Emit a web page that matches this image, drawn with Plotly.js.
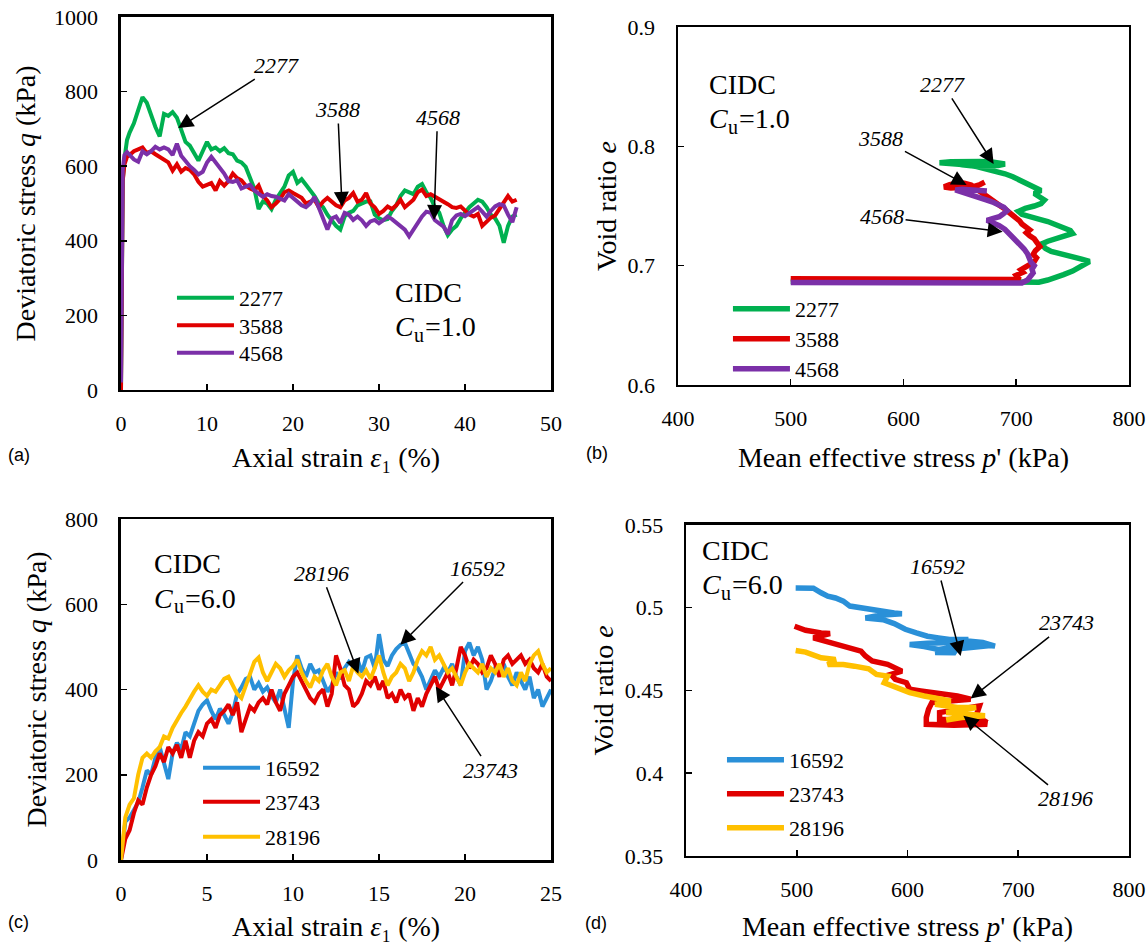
<!DOCTYPE html>
<html>
<head>
<meta charset="utf-8">
<script src="https://cdn.plot.ly/plotly-3.0.1.min.js"></script>
<style>html,body{margin:0;padding:0;background:#fff;}#chart{width:1148px;height:942px;}</style>
</head>
<body>
<div id="chart"></div>
<script>
// ---------- Panel (a): q vs axial strain, Cu = 1.0 ----------
const strainA = [0,0.1,0.2,0.4,0.7,1.0,1.5,2.0,2.5,3.0,3.5,4.0,4.5,5.0,5.5,6.0,6.5,7.0,7.5,8.0,8.5,9.0,9.5,10.0,10.5,11.0,11.5,12.0,12.5,13.0,13.5,14.0,14.5,15.0,15.5,16.0,16.5,17.0,17.5,18.0,18.5,19.0,19.5,20.0,20.5,21.0,21.5,22.0,22.5,23.0,23.5,24.0,24.5,25.0,25.5,26.0,26.5,27.0,27.5,28.0,28.5,29.0,29.5,30.0,30.5,31.0,31.5,32.0,32.5,33.0,33.5,34.0,34.5,35.0,35.5,36.0,36.5,37.0,37.5,38.0,38.5,39.0,39.5,40.0,40.5,41.0,41.5,42.0,42.5,43.0,43.5,44.0,44.5,45.0,45.5,46.0];
const qA_2277 = [0,350,560,620,670,690,715,750,785,770,735,705,680,740,735,745,730,695,665,655,635,615,640,665,645,650,640,648,635,632,615,610,598,570,540,485,505,500,485,510,530,545,575,585,555,565,550,535,520,500,490,470,455,440,430,465,475,480,495,500,505,505,470,460,455,458,480,495,520,535,530,525,545,552,530,515,490,475,440,415,430,440,460,475,490,500,510,505,490,470,460,440,395,440,465,470];
const qA_3588 = [0,300,560,605,625,630,640,645,650,635,640,632,625,620,610,588,605,585,595,590,578,558,545,550,555,535,560,548,560,580,568,562,548,540,535,548,520,508,490,500,512,530,535,528,520,515,500,505,510,490,505,515,505,495,490,508,515,528,505,510,528,500,490,472,480,492,485,495,510,490,500,510,530,537,520,525,518,512,505,498,490,488,492,480,470,465,472,440,450,462,468,485,502,520,505,510];
const qA_4568 = [20,400,590,630,638,630,618,612,640,632,640,652,645,650,645,630,660,628,612,600,590,578,585,610,625,610,598,580,560,558,562,540,545,550,535,525,518,525,520,518,512,508,525,515,505,495,490,500,518,490,455,430,460,465,448,475,470,456,465,455,440,452,456,447,455,465,458,448,438,430,412,430,450,465,478,475,455,445,438,418,455,468,472,466,475,483,490,478,465,480,492,498,495,470,450,490];

// ---------- Panel (b): e vs p', Cu = 1.0 ----------
const pB_2277 = [500,560,620,680,712,720,728,735,742,750,757,763,765,758,752,745,738,731,726,722,728,736,744,750,748,742,735,728,720,712,705,702,708,716,722,725,720,716,722,716,709,703,697,690,683,674,665,655,645,636,632,642,655,668,680,690,684,672,660,650,662,678,688];
const eB_2277 = [0.6870,0.6868,0.6866,0.6862,0.6858,0.6862,0.6880,0.6900,0.6925,0.6955,0.6990,0.7015,0.7035,0.7055,0.7070,0.7085,0.7100,0.7120,0.7145,0.7180,0.7205,0.7225,0.7245,0.7270,0.7295,0.7320,0.7345,0.7370,0.7390,0.7410,0.7430,0.7455,0.7480,0.7500,0.7520,0.7550,0.7580,0.7605,0.7630,0.7660,0.7690,0.7715,0.7745,0.7770,0.7790,0.7810,0.7830,0.7845,0.7855,0.7858,0.7862,0.7870,0.7875,0.7872,0.7866,0.7852,0.7840,0.7835,0.7838,0.7848,0.7858,0.7862,0.7850];
const pB_3588 = [500,600,690,703,700,706,704,710,713,716,718,715,717,721,719,716,712,709,712,708,705,703,700,697,694,690,686,682,678,674,670,667,664,660,654,648,641,636,642,652,662,668,672];
const eB_3588 = [0.6890,0.6886,0.6882,0.6885,0.6920,0.6945,0.6965,0.6990,0.7015,0.7035,0.7065,0.7095,0.7125,0.7160,0.7195,0.7225,0.7250,0.7275,0.7300,0.7325,0.7350,0.7375,0.7400,0.7425,0.7450,0.7475,0.7500,0.7525,0.7550,0.7575,0.7600,0.7625,0.7650,0.7675,0.7690,0.7690,0.7678,0.7660,0.7652,0.7655,0.7662,0.7680,0.7700];
const pB_4568 = [500,600,690,705,710,713,715,714,716,713,712,710,707,703,700,697,693,690,685,678,674,679,685,688,692,689,685,680,674,668,662,657,652,648,646,652,660,668,674];
const eB_4568 = [0.6858,0.6855,0.6852,0.6855,0.6880,0.6910,0.6940,0.6970,0.7000,0.7030,0.7060,0.7100,0.7140,0.7180,0.7215,0.7245,0.7275,0.7305,0.7335,0.7360,0.7380,0.7395,0.7410,0.7430,0.7460,0.7490,0.7510,0.7530,0.7550,0.7570,0.7590,0.7605,0.7618,0.7628,0.7635,0.7640,0.7638,0.7630,0.7625];

// ---------- Panel (c): q vs axial strain, Cu = 6.0 ----------
const strainC = [0,0.25,0.5,0.75,1,1.25,1.5,1.75,2,2.25,2.5,2.75,3,3.25,3.5,3.75,4,4.25,4.5,4.75,5,5.25,5.5,5.75,6,6.25,6.5,6.75,7,7.25,7.5,7.75,8,8.25,8.5,8.75,9,9.25,9.5,9.75,10,10.25,10.5,10.75,11,11.25,11.5,11.75,12,12.25,12.5,12.75,13,13.25,13.5,13.75,14,14.25,14.5,14.75,15,15.25,15.5,15.75,16,16.25,16.5,16.75,17,17.25,17.5,17.75,18,18.25,18.5,18.75,19,19.25,19.5,19.75,20,20.25,20.5,20.75,21,21.25,21.5,21.75,22,22.25,22.5,22.75,23,23.25,23.5,23.75,24,24.25,24.5,24.75,25];
const qC_16592 = [0,90,100,120,135,170,210,200,240,265,230,190,250,275,260,300,290,320,350,365,375,350,330,355,340,320,345,390,405,425,430,400,415,395,405,385,370,400,350,310,420,480,450,430,460,440,445,420,395,410,440,425,450,465,455,470,440,475,480,450,530,470,455,480,495,505,510,485,460,450,430,400,420,445,430,450,440,460,430,410,490,510,480,500,470,400,420,450,440,460,430,410,440,420,400,430,380,400,360,380,400];
const qC_23743 = [0,50,70,110,140,130,170,200,220,250,230,265,250,270,240,280,240,280,300,290,320,330,310,340,350,365,340,370,300,330,360,350,370,380,365,400,370,350,390,410,430,440,420,400,380,370,390,400,360,390,480,450,410,400,360,370,390,420,410,430,400,420,380,390,370,400,380,390,350,380,360,390,410,430,400,420,440,410,450,500,480,450,470,460,440,450,480,460,430,470,480,460,470,480,460,470,450,440,460,430,420];
const qC_28196 = [0,100,130,145,200,240,250,240,255,265,290,285,310,330,345,360,380,395,410,395,385,400,395,410,425,430,410,390,380,410,440,465,475,440,420,440,460,450,430,445,455,470,440,420,405,430,420,445,460,430,410,440,445,420,455,440,430,445,425,450,480,440,410,430,440,460,450,420,440,470,490,480,500,470,480,460,440,450,430,410,440,460,450,440,460,430,450,440,460,430,450,420,410,440,420,460,480,490,460,440,450];

// ---------- Panel (d): e vs p', Cu = 6.0 ----------
const pD_16592 = [499,510,515,522,528,535,542,548,558,568,578,588,595,575,562,578,588,598,608,618,628,638,655,640,618,602,615,628,648,662,679,668,655,645,642,625,635,660,675];
const eD_16592 = [0.5119,0.5120,0.5118,0.5090,0.5070,0.5059,0.5040,0.5010,0.4998,0.4988,0.4978,0.4968,0.4964,0.4955,0.4938,0.4928,0.4904,0.4870,0.4848,0.4828,0.4818,0.4808,0.4808,0.4790,0.4785,0.4778,0.4765,0.4748,0.4768,0.4778,0.4768,0.4790,0.4798,0.4760,0.4728,0.4730,0.4745,0.4760,0.4772];
const pD_23743 = [498,508,522,530,515,525,538,548,558,562,568,582,589,595,585,589,599,602,612,629,645,657,639,622,619,617,617,642,672,662,629,629,665,662,672];
const eD_23743 = [0.4888,0.4864,0.4848,0.4844,0.4818,0.4798,0.4778,0.4758,0.4738,0.4708,0.4678,0.4658,0.4637,0.4617,0.4597,0.4567,0.4547,0.4507,0.4497,0.4483,0.4467,0.4447,0.4437,0.4427,0.4387,0.4337,0.4296,0.4290,0.4296,0.4316,0.4326,0.4367,0.4407,0.4347,0.4306];
const pD_28196 = [499,508,522,535,528,542,552,565,572,582,579,589,602,615,629,639,625,645,662,635,655,670,649,635,645];
const eD_28196 = [0.4742,0.4732,0.4698,0.4688,0.4657,0.4657,0.4647,0.4631,0.4597,0.4587,0.4547,0.4517,0.4487,0.4467,0.4447,0.4437,0.4417,0.4397,0.4397,0.4367,0.4357,0.4347,0.4337,0.4322,0.4337];

const namesTop = ['2277','3588','4568'];
const namesBot = ['16592','23743','28196'];
const colorsTop = ['#00B050','#E00000','#7B30A8'];
const colorsBot = ['#2A90D8','#E00000','#FFC000'];
const cuValues = ['1.0', '6.0'];

const SERIF = "'Liberation Serif', 'Times New Roman', serif";
const SANS = "'Liberation Sans', Arial, sans-serif";

const series = [
  [strainA, qA_2277, namesTop[0], colorsTop[0], 'x', 'y', 4],
  [strainA, qA_3588, namesTop[1], colorsTop[1], 'x', 'y', 4],
  [strainA, qA_4568, namesTop[2], colorsTop[2], 'x', 'y', 4],
  [pB_2277, eB_2277, namesTop[0], colorsTop[0], 'x2', 'y2', 5.5],
  [pB_3588, eB_3588, namesTop[1], colorsTop[1], 'x2', 'y2', 5.5],
  [pB_4568, eB_4568, namesTop[2], colorsTop[2], 'x2', 'y2', 5.5],
  [strainC, qC_16592, namesBot[0], colorsBot[0], 'x3', 'y3', 4],
  [strainC, qC_23743, namesBot[1], colorsBot[1], 'x3', 'y3', 4],
  [strainC, qC_28196, namesBot[2], colorsBot[2], 'x3', 'y3', 4],
  [pD_16592, eD_16592, namesBot[0], colorsBot[0], 'x4', 'y4', 5.5],
  [pD_23743, eD_23743, namesBot[1], colorsBot[1], 'x4', 'y4', 5.5],
  [pD_28196, eD_28196, namesBot[2], colorsBot[2], 'x4', 'y4', 5.5]
];

// one legend box per entry so each row sits where the reference has it
const legendPos = [
  [0.1498, 0.7059], [0.1498, 0.6768], [0.1498, 0.6476],
  [0.6341, 0.6943], [0.6341, 0.6624], [0.6341, 0.6306],
  [0.1725, 0.2070], [0.1725, 0.1709], [0.1725, 0.1338],
  [0.6289, 0.2155], [0.6289, 0.1794], [0.6289, 0.1433]
];

const traces = series.map(function (s, i) {
  const leg = i === 0 ? 'legend' : 'legend' + (i + 1);
  return {x: s[0], y: s[1], name: s[2], type: 'scatter', mode: 'lines',
    line: {color: s[3], width: s[6]}, xaxis: s[4], yaxis: s[5],
    legend: leg, legendgroup: 'g' + i, cliponaxis: true};
});

function axis(domain, range, dtick, anchor, title, standoff, lstand) {
  return {domain: domain, range: range, dtick: dtick, tick0: range[0], anchor: anchor,
    showline: true, linecolor: '#000', linewidth: 2.5, mirror: true,
    ticks: 'inside', ticklen: 6, tickwidth: 1.5, tickcolor: '#000',
    showgrid: false, zeroline: false, automargin: false,
    ticklabelstandoff: lstand,
    tickfont: {family: SERIF, size: 22, color: '#000'},
    title: {text: title, standoff: standoff, font: {family: SERIF, size: 28, color: '#000'}}};
}

const qTitle = 'Deviatoric stress <i>q</i> (kPa)';
const epsTitle = 'Axial strain <i>ε</i>\u2081 (%)';
const pTitle = "Mean effective stress <i>p</i>' (kPa)";
const eTitle = 'Void ratio <i>e</i>';

function label(xa, ya, tx, ty, hx, hy, t) {
  return {xref: xa, yref: ya, axref: xa, ayref: ya, x: hx, y: hy, ax: tx, ay: ty,
    text: t, showarrow: true, arrowhead: 2, arrowsize: 2, arrowwidth: 1.5,
    arrowcolor: '#000', standoff: 0, xanchor: 'center', yanchor: 'middle',
    font: {family: SERIF, size: 22, color: '#000', style: 'italic'}};
}
function ptext(x, y, t, size, fam, style) {
  return {xref: 'paper', yref: 'paper', x: x, y: y, text: t, showarrow: false,
    xanchor: 'left', yanchor: 'middle',
    font: {family: fam || SERIF, size: size, color: '#000', style: style || 'normal'}};
}
// "CIDC" plus "C_u = value" built from three pieces (italic C, small lowered u, "=value")
function cidc(xC, xU, xEq, yTop, yC, yU, val) {
  return [
    ptext(xC, yTop, 'CIDC', 28),
    ptext(xC, yC, 'C', 28, SERIF, 'italic'),
    ptext(xU, yU, 'u', 20),
    ptext(xEq, yC, '=' + val, 28)
  ];
}

const annotations = [
  // panel a
  label('x', 'y', 18.1, 871, 6.65, 702, namesTop[0]),
  label('x', 'y', 25.2, 752, 25.7, 491, namesTop[1]),
  label('x', 'y', 36.8, 731, 36.4, 456, namesTop[2]),
  // panel b
  label('x2', 'y2', 635, 0.852, 680, 0.7852, namesTop[0]),
  label('x2', 'y2', 580, 0.8068, 656, 0.7676, namesTop[1]),
  label('x2', 'y2', 581, 0.7408, 688, 0.7285, namesTop[2]),
  // panel c
  label('x3', 'y3', 11.65, 673, 13.8, 437, namesBot[2]),
  label('x3', 'y3', 20.7, 685, 16.24, 505, namesBot[0]),
  label('x3', 'y3', 21.46, 211, 18.3, 407, namesBot[1]),
  // panel d
  label('x4', 'y4', 627, 0.5249, 648, 0.4708, namesBot[0]),
  label('x4', 'y4', 744, 0.4908, 657, 0.4451, namesBot[1]),
  label('x4', 'y4', 742.4, 0.3845, 650.5, 0.4347, namesBot[2]),
  // panel labels
  ptext(0.005, 0.517, '(a)', 18, SANS),
  ptext(0.509, 0.519, '(b)', 18, SANS),
  ptext(0.005, 0.0212, '(c)', 18, SANS),
  ptext(0.508, 0.0202, '(d)', 18, SANS)
].concat(
  cidc(0.3423, 0.3589, 0.3685, 0.689, 0.653, 0.6445, cuValues[0]),
  cidc(0.6159, 0.6324, 0.6420, 0.9098, 0.874, 0.8655, cuValues[0]),
  cidc(0.1328, 0.1494, 0.1590, 0.4023, 0.365, 0.3565, cuValues[1]),
  cidc(0.6098, 0.6263, 0.6359, 0.4151, 0.379, 0.3705, cuValues[1])
);

const layout = {
  width: 1148, height: 942, autosize: false,
  margin: {l: 0, r: 0, t: 0, b: 0},
  paper_bgcolor: '#fff', plot_bgcolor: '#fff',
  font: {family: SERIF, color: '#000'},
  showlegend: true,
  xaxis:  axis([0.1054, 0.4800], [0, 50], 10, 'y', epsTitle, 13, 12),
  yaxis:  axis([0.5860, 0.9820], [0, 1000], 200, 'x', qTitle, 11, 16),
  xaxis2: axis([0.5906, 0.9834], [400, 800], 100, 'y2', pTitle, 18, 12),
  yaxis2: axis([0.5913, 0.9713], [0.6, 0.9], 0.1, 'x2', eTitle, 3, 16),
  xaxis3: axis([0.1054, 0.4800], [0, 25], 5, 'y3', epsTitle, 14, 12),
  yaxis3: axis([0.0870, 0.4490], [0, 800], 200, 'x3', qTitle, 11, 16),
  xaxis4: axis([0.5976, 0.9834], [400, 800], 100, 'y4', pTitle, 18, 12),
  yaxis4: axis([0.0913, 0.4427], [0.35, 0.55], 0.05, 'x4', eTitle, 3, 16),
  annotations: annotations
};
legendPos.forEach(function (p, i) {
  const key = i === 0 ? 'legend' : 'legend' + (i + 1);
  layout[key] = {x: p[0], y: p[1], xanchor: 'left', yanchor: 'top', bgcolor: 'rgba(0,0,0,0)',
    itemwidth: 57, font: {family: SERIF, size: 22, color: '#000'}};
});

Plotly.newPlot('chart', traces, layout, {displayModeBar: false, staticPlot: true});
</script>
</body>
</html>
